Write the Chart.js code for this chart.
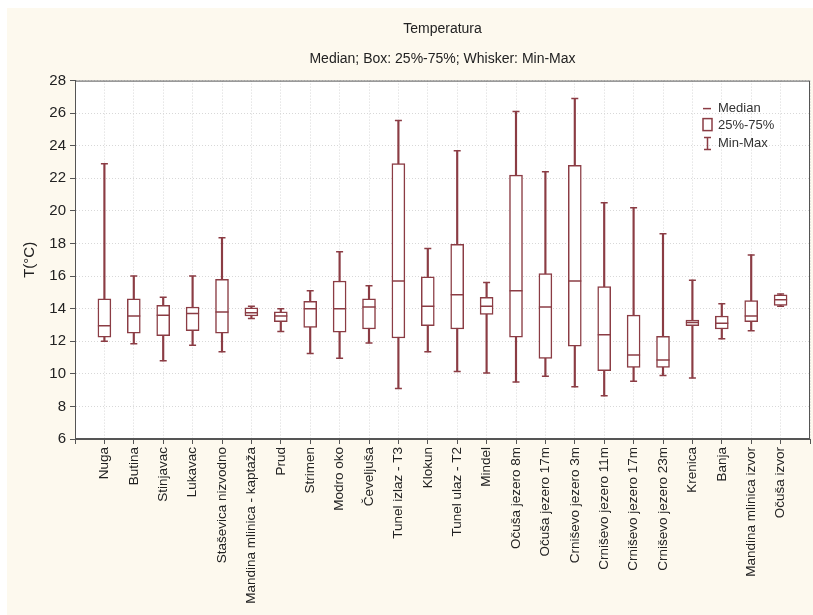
<!DOCTYPE html>
<html>
<head>
<meta charset="utf-8">
<script src="https://cdn.jsdelivr.net/npm/chart.js@4.4.0/dist/chart.umd.min.js"></script>
<style>
  html, body { margin: 0; padding: 0; background: #ffffff; }
  #wrap { width: 813px; height: 615px; }
</style>
</head>
<body>
<div id="wrap"><canvas id="tempChart" width="813" height="615"></canvas></div>
<script>
// Sampling sites
const categories = [
  'Nuga', 'Butina', 'Stinjavac', 'Lukavac', 'Staševica nizvodno',
  'Mandina mlinica - kaptaža', 'Prud', 'Strimen', 'Modro oko', 'Čeveljuša',
  'Tunel izlaz - T3', 'Klokun', 'Tunel ulaz - T2', 'Mindel', 'Očuša jezero 8m',
  'Očuša jezero 17m', 'Crniševo jezero 3m', 'Crniševo jezero 11m', 'Crniševo jezero 17m', 'Crniševo jezero 23m',
  'Krenica', 'Banja', 'Mandina mlinica izvor', 'Očuša izvor'
];

// Temperature stats (°C)
const minVals = [12.0, 11.85, 10.8, 11.75, 11.35, 13.4, 12.6, 11.25, 10.95, 11.9, 9.1, 11.35, 10.15, 10.05, 9.5, 9.85, 9.2, 8.65, 9.55, 9.9, 9.75, 12.15, 12.65, 14.15];
const q1Vals = [12.25, 12.5, 12.35, 12.65, 12.5, 13.55, 13.2, 12.85, 12.55, 12.75, 12.2, 12.95, 12.75, 13.65, 12.25, 10.95, 11.7, 10.2, 10.4, 10.4, 12.95, 12.75, 13.2, 14.2];
const medianVals = [12.95, 13.55, 13.6, 13.7, 13.8, 13.75, 13.55, 14.0, 14.0, 14.1, 15.7, 14.15, 14.85, 14.15, 15.1, 14.1, 15.7, 12.4, 11.15, 10.85, 13.15, 13.1, 13.55, 14.55];
const q3Vals = [14.6, 14.6, 14.2, 14.1, 15.8, 14.05, 13.8, 14.45, 15.7, 14.6, 22.9, 15.95, 17.95, 14.7, 22.2, 16.15, 22.8, 15.35, 13.6, 12.3, 13.3, 13.55, 14.5, 14.85];
const maxVals = [22.9, 16.0, 14.7, 16.0, 18.35, 14.15, 14.0, 15.1, 17.5, 15.4, 25.55, 17.7, 23.7, 15.6, 26.1, 22.4, 26.9, 20.5, 20.2, 18.6, 15.75, 14.3, 17.3, 14.9];

const yTicks = [6, 8, 10, 12, 14, 16, 18, 20, 22, 24, 26, 28];

const LINE = '#8b3c44';
const FONT = "'Liberation Sans', Arial, sans-serif";

const boxData = categories.map((c, i) => ({ x: i, y: [q1Vals[i], q3Vals[i]] }));
const whiskerData = categories.map((c, i) => ({ x: i, y: [minVals[i], maxVals[i]] }));
const medianData = categories.map((c, i) => ({ x: i, y: medianVals[i] }));
const capData = categories.map((c, i) => ({ x: i, y: minVals[i] }))
  .concat(categories.map((c, i) => ({ x: i, y: maxVals[i] })));

// Cream page, white plot area, frame and the small legend
const backdrop = {
  id: 'backdrop',
  beforeDraw(chart) {
    const { ctx, chartArea: a } = chart;
    ctx.save();
    ctx.fillStyle = '#ffffff';
    ctx.fillRect(0, 0, chart.width, chart.height);
    ctx.fillStyle = '#fdf9ee';
    ctx.fillRect(7, 8, chart.width - 7, chart.height - 8);
    ctx.fillStyle = '#ffffff';
    ctx.fillRect(a.left, a.top, a.right - a.left, a.bottom - a.top);
    ctx.restore();
  },
  afterDraw(chart) {
    const { ctx, chartArea: a } = chart;
    ctx.save();
    ctx.strokeStyle = '#555555';
    ctx.lineWidth = 1;
    ctx.strokeRect(a.left + 0.5, a.top + 0.5, a.right - a.left - 1, a.bottom - a.top - 1);

    // legend
    const lx = a.right - 107;
    const ly = a.top + 28;
    ctx.strokeStyle = LINE;
    ctx.lineWidth = 1.5;
    ctx.beginPath();
    ctx.moveTo(lx, ly); ctx.lineTo(lx + 8, ly);
    ctx.stroke();
    ctx.strokeRect(lx, ly + 10, 9, 12);
    ctx.beginPath();
    ctx.moveTo(lx + 4.5, ly + 29); ctx.lineTo(lx + 4.5, ly + 41);
    ctx.moveTo(lx + 1, ly + 29); ctx.lineTo(lx + 8, ly + 29);
    ctx.moveTo(lx + 1, ly + 41); ctx.lineTo(lx + 8, ly + 41);
    ctx.stroke();
    ctx.fillStyle = '#333333';
    ctx.font = '13px ' + FONT;
    ctx.textBaseline = 'middle';
    ctx.fillText('Median', lx + 15, ly);
    ctx.fillText('25%-75%', lx + 15, ly + 17);
    ctx.fillText('Min-Max', lx + 15, ly + 35);
    ctx.restore();
  }
};

new Chart(document.getElementById('tempChart').getContext('2d'), {
  type: 'bar',
  data: {
    datasets: [
      {
        type: 'scatter',
        label: 'Median',
        data: medianData,
        pointStyle: 'line',
        pointRadius: 6.5,
        borderColor: LINE,
        borderWidth: 1.5,
        showLine: false,
        order: 0
      },
      {
        type: 'scatter',
        label: 'Caps',
        data: capData,
        pointStyle: 'line',
        pointRadius: 3.5,
        borderColor: LINE,
        borderWidth: 1.5,
        showLine: false,
        order: 1
      },
      {
        label: '25%-75%',
        data: boxData,
        backgroundColor: '#ffffff',
        borderColor: LINE,
        borderWidth: 1.5,
        borderSkipped: false,
        barThickness: 13,
        grouped: false,
        order: 2
      },
      {
        label: 'Min-Max',
        data: whiskerData,
        backgroundColor: LINE,
        borderWidth: 0,
        barThickness: 1.5,
        grouped: false,
        order: 3
      }
    ]
  },
  options: {
    responsive: false,
    animation: false,
    layout: { autoPadding: false, padding: { right: 3, left: 0 } },
    plugins: {
      legend: { display: false },
      tooltip: { enabled: false },
      title: {
        display: true,
        text: 'Temperatura',
        fullSize: false,
        color: '#222222',
        font: { family: FONT, size: 14, weight: 'normal' },
        padding: { top: 21, bottom: 13 }
      },
      subtitle: {
        display: true,
        text: 'Median; Box: 25%-75%; Whisker: Min-Max',
        fullSize: false,
        color: '#222222',
        font: { family: FONT, size: 14 },
        padding: { bottom: 13 }
      }
    },
    scales: {
      x: {
        type: 'linear',
        offset: false,
        min: -1,
        max: categories.length,
        afterFit(scale) {
          scale.height = 176;
          scale.paddingLeft = 0;
          scale.paddingRight = 0;
        },
        ticks: {
          stepSize: 1,
          autoSkip: false,
          minRotation: 90,
          maxRotation: 90,
          color: '#222222',
          font: { family: FONT, size: 13.5 },
          callback: (v) => categories[v] || ''
        },
        grid: { offset: false, color: '#d8d8d8', tickColor: '#555555', tickLength: 5 },
        border: { color: '#555555', dash: [1, 2] }
      },
      y: {
        min: 6,
        max: 28,
        afterFit(scale) { scale.width = 75; },
        afterBuildTicks(scale) { scale.ticks = yTicks.map(v => ({ value: v })); },
        title: {
          display: true,
          text: 'T(°C)',
          color: '#222222',
          font: { family: FONT, size: 15 },
          padding: { top: 21, bottom: 0 }
        },
        ticks: {
          color: '#222222',
          font: { family: FONT, size: 15 },
          padding: 4
        },
        grid: { color: '#d8d8d8', tickColor: '#555555', tickLength: 5 },
        border: { color: '#555555', dash: [1, 2] }
      }
    }
  },
  plugins: [backdrop]
});
</script>
</body>
</html>
